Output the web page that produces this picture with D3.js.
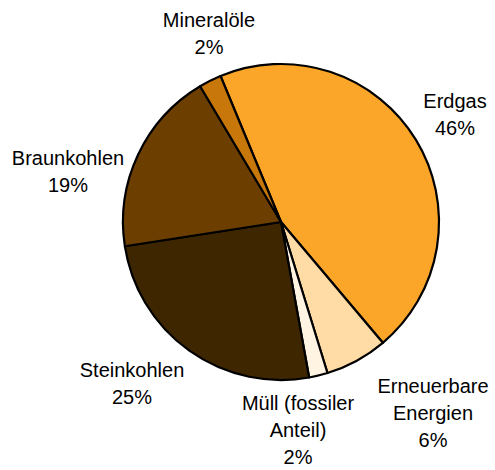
<!DOCTYPE html>
<html><head><meta charset="utf-8">
<script src="https://cdn.jsdelivr.net/npm/d3@7"></script>
<style>body{margin:0;background:#fff}</style>
</head><body>
<svg id="c" width="495" height="470"></svg>
<script>
const categories = ["Erdgas", "Erneuerbare Energien", "Müll (fossiler Anteil)", "Steinkohlen", "Braunkohlen", "Mineralöle"];
const values = [45.1, 6.4, 1.9, 25.4, 18.9, 2.3];
const percentLabels = ["46%", "6%", "2%", "25%", "19%", "2%"];
const labelLines = [["Erdgas"], ["Erneuerbare", "Energien"], ["Müll (fossiler", "Anteil)"], ["Steinkohlen"], ["Braunkohlen"], ["Mineralöle"]];
const colors = ["#FCA629", "#FFDBA5", "#FFF3E2", "#3E2600", "#6C3F00", "#C8780A"];

const svg = d3.select("#c");
const cx = 281, cy = 222, r = 158;
const start = -22.5 * Math.PI / 180;
const pie = d3.pie().sort(null).value(d => d).startAngle(start).endAngle(start + 2 * Math.PI);
const arc = d3.arc().innerRadius(0).outerRadius(r);
const g = svg.append("g").attr("transform", `translate(${cx},${cy})`);
g.selectAll("path").data(pie(values)).join("path")
  .attr("d", arc).attr("fill", (d, i) => colors[i])
  .attr("stroke", "#000").attr("stroke-width", 2.2).attr("stroke-linejoin", "round");

// label anchors (center x, first baseline)
const labelPos = [[455, 108], [433, 393], [298, 410], [132, 377], [68, 165], [209, 27]];
const lh = 27;
labelPos.forEach((p, i) => {
  const lines = labelLines[i].concat([percentLabels[i]]);
  const t = svg.append("text").attr("text-anchor", "middle")
    .attr("font-family", "Liberation Sans, Arial, sans-serif").attr("font-size", 20).attr("fill", "#000");
  lines.forEach((l, j) => t.append("tspan").attr("x", p[0]).attr("y", p[1] + j * lh).text(l));
});
</script>
</body></html>
